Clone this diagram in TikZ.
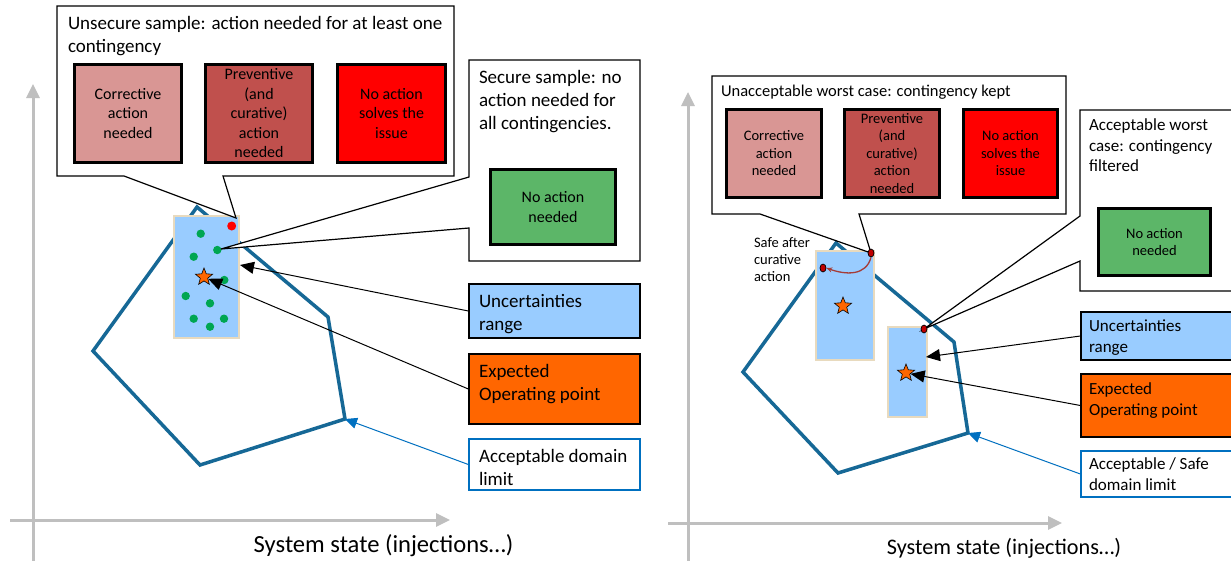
\documentclass[tikz,border=0pt]{standalone}
\usepackage{fontspec}
\setmainfont{Carlito}
\usetikzlibrary{arrows.meta,shapes.geometric,calc}

\definecolor{axisgray}{RGB}{191,191,191}
\definecolor{domblue}{RGB}{22,104,150}
\definecolor{uncblue}{RGB}{153,204,255}
\definecolor{uncedge}{RGB}{232,218,190}
\definecolor{opora}{RGB}{255,102,0}
\definecolor{corrpink}{RGB}{217,150,148}
\definecolor{prevred}{RGB}{192,80,77}
\definecolor{hardred}{RGB}{255,0,0}
\definecolor{okgreen}{RGB}{92,182,104}
\definecolor{dotgreen}{RGB}{0,166,81}
\definecolor{limblue}{RGB}{0,112,192}
\definecolor{darkdot}{RGB}{192,0,0}
\definecolor{curvered}{RGB}{165,60,55}

% font sizes
\newcommand\fHeadL{\fontsize{19}{23}\selectfont}
\newcommand\fBoxL{\fontsize{16}{19.5}\selectfont}
\newcommand\fHeadR{\fontsize{16.5}{20}\selectfont}
\newcommand\fBoxR{\fontsize{14.5}{17.5}\selectfont}
\newcommand\fLabR{\fontsize{17}{20.5}\selectfont}
\newcommand\fNote{\fontsize{14.5}{17.3}\selectfont}

\begin{document}
\begin{tikzpicture}[x=1pt,y=-1pt,
  axisline/.style={line width=3pt, draw=axisgray, -{Triangle[length=14pt,width=13pt]}},
  limitline/.style={draw=domblue, line width=3.5pt, line join=miter},
  uncrect/.style={draw=uncedge, fill=uncblue, line width=1.2pt, inner sep=0pt},
  opstar/.style={star, star points=5, star point ratio=2.3, minimum size=18pt, inner sep=0pt,
                 fill=opora, draw=black, line width=0.6pt},
  callout/.style={draw=black, line width=1.2pt, fill=white, line join=miter},
  statebox/.style={draw=black, line width=3pt, align=center, inner sep=0pt},
  labelbox/.style={draw=black, line width=1.3pt, inner sep=0pt},
  txt/.style={anchor=north west, inner sep=0pt, outer sep=0pt, align=left},
  ptr/.style={draw=black, line width=1pt, -{Triangle[length=14pt,width=12pt]}},
  limptr/.style={draw=limblue, line width=1pt, -{Triangle[length=12pt,width=11pt]}},
  reddot/.style={ellipse, minimum width=6pt, minimum height=8pt, inner sep=0pt,
                 fill=darkdot, draw=black, line width=0.7pt},
  curvearrow/.style={draw=curvered, line width=1.3pt, -{Stealth[length=6pt,width=5pt]}}
]
\useasboundingbox (0,0) rectangle (1231,560);
\clip (0,0) rectangle (1231,560);
\fill[white] (0,0) rectangle (1231,560);

%% ================= left panel =================
% axes
\coordinate (yL0) at (33,562);  \coordinate (yL1) at (33,84);
\coordinate (xL0) at (10,520);  \coordinate (xL1) at (450,520);
\draw[axisline] (yL0) -- (yL1);
\draw[axisline] (xL0) -- (xL1);
\node[anchor=base, inner sep=0pt, font=\fontsize{24.6}{28}\selectfont] (axL) at (383.5,552.5)
  {System state (injections…)};

% acceptable domain
\coordinate (pA) at (197,207); \coordinate (pB) at (328,317);
\coordinate (pC) at (345,419); \coordinate (pD) at (200,465);
\coordinate (pE) at (93,351);
\draw[limitline] (pA) -- (pB) -- (pC) -- (pD) -- (pE) -- cycle;

% uncertainty range with samples
\node[uncrect, minimum width=65pt, minimum height=122pt] (rangeL) at (206.5,277) {};
\foreach \px/\py in {200.7/233.7, 217.3/250, 193.7/256.7, 224.3/280, 185.7/296,
                     210/303.3, 193.7/318.7, 224/318.7, 210/326.7}
  \fill[dotgreen] (\px,\py) circle[radius=4.2pt];
\node[opstar] (starL) at (204,277) {};

% callout: unsecure sample
\draw[callout] (57,6) -- (454,6) -- (454,176) -- (223,176) -- (236,218) -- (124,176)
  -- (57,176) -- cycle;
\fill[hardred] (231.7,226) circle[radius=4.5pt];
\node[txt, font=\fHeadL] (unsecTxt) at (68,13.4)
  {\strut Unsecure sample: action needed for at least one\\contingency};
\node[statebox, fill=corrpink, minimum width=107pt, minimum height=98pt, font=\fBoxL]
  (corrL) at (128,113.5) {Corrective\\action\\needed};
\node[statebox, fill=prevred, minimum width=107pt, minimum height=98pt, font=\fBoxL]
  (prevL) at (259,113.5) {Preventive\\(and\\curative)\\action\\needed};
\node[statebox, fill=hardred, minimum width=108pt, minimum height=98pt, font=\fBoxL]
  (noneL) at (391.5,113.5) {No action\\solves the\\issue};

% callout: secure sample
\draw[callout] (469,60) -- (640,60) -- (640,261) -- (469,261) -- (469,228) -- (221,249)
  -- (469,177) -- cycle;
\node[txt, font=\fHeadL] (secTxt) at (479,67.2)
  {\strut Secure sample: no\\action needed for\\all contingencies.};
\node[statebox, fill=okgreen, minimum width=125pt, minimum height=75pt, font=\fBoxL]
  (okL) at (553,207) {No action\\needed};

% legend boxes
\node[labelbox, fill=uncblue, minimum width=171pt, minimum height=54pt] (uncL) at (554.5,311) {};
\node[txt, font=\fHeadL] (uncLTxt) at (479,291.2) {\strut Uncertainties\\range};
\node[labelbox, fill=opora, minimum width=171pt, minimum height=70pt] (expL) at (554.5,389) {};
\node[txt, font=\fHeadL] (expLTxt) at (479,361.2) {\strut Expected\\Operating point};
\node[labelbox, draw=limblue, fill=white, minimum width=171pt, minimum height=51pt] (limL) at (554.5,464.5) {};
\node[txt, font=\fHeadL] (limLTxt) at (479,446.6) {\strut Acceptable domain\\limit};

% pointers
\coordinate (uncTipL) at (240,265);
\draw[ptr] (uncL.west) -- (uncTipL);
\draw[ptr] (expL.west) -- (starL);
\draw[limptr] (limL.west) -- (pC);

%% ================= right panel =================
\coordinate (yR0) at (688,562);  \coordinate (yR1) at (688,92);
\coordinate (xR0) at (668,523);  \coordinate (xR1) at (1062,523);
\draw[axisline] (yR0) -- (yR1);
\draw[axisline] (xR0) -- (xR1);
\node[anchor=base, inner sep=0pt, font=\fontsize{22.2}{26}\selectfont] (axR) at (1004,554)
  {System state (injections…)};

% acceptable / safe domain
\coordinate (qA) at (836,243); \coordinate (qB) at (954,342);
\coordinate (qC) at (968,433); \coordinate (qD) at (838,473);
\coordinate (qE) at (743,372);
\draw[limitline] (qA) -- (qB) -- (qC) -- (qD) -- (qE) -- cycle;

% uncertainty ranges
\node[uncrect, minimum width=58pt, minimum height=109pt] (rangeR1) at (845,305.5) {};
\node[uncrect, minimum width=39pt, minimum height=90pt] (rangeR2) at (907.5,372) {};
\node[opstar] (starR1) at (843,306) {};
\node[opstar] (starR2) at (906,373) {};

% callout: unacceptable worst case
\draw[callout] (712,76) -- (1066,76) -- (1066,214) -- (859,214) -- (871,253) -- (760,214)
  -- (712,214) -- cycle;
\node[txt, font=\fHeadR] (unaccTxt) at (721,82)
  {\strut Unacceptable worst case: contingency kept};
\node[statebox, fill=corrpink, minimum width=95pt, minimum height=88pt, font=\fBoxR]
  (corrR) at (774,153.5) {Corrective\\action\\needed};
\node[statebox, fill=prevred, minimum width=95pt, minimum height=88pt, font=\fBoxR]
  (prevR) at (892,153.5) {Preventive\\(and\\curative)\\action\\needed};
\node[statebox, fill=hardred, minimum width=94pt, minimum height=88pt, font=\fBoxR]
  (noneR) at (1010.5,153.5) {No action\\solves the\\issue};

% callout: acceptable worst case
\draw[callout] (1080,110) -- (1240,110) -- (1240,291) -- (1080,291) -- (1080,261) -- (924,329)
  -- (1080,216) -- cycle;
\node[txt, font=\fLabR] (accTxt) at (1089,116.6)
  {\strut Acceptable worst\\case: contingency\\filtered};
\node[statebox, fill=okgreen, minimum width=112pt, minimum height=67pt, font=\fBoxR]
  (okR) at (1154.5,242) {No action\\needed};

% worst-case samples and curative move
\node[reddot] (rdA) at (871,253) {};
\node[reddot] (rdB) at (823,268) {};
\node[reddot] (rdC) at (924,329) {};
\draw[curvearrow] (rdA.south) .. controls (866,276) and (846,275) .. (rdB.east);
\node[txt, font=\fNote] (safeTxt) at (754,234.9) {\strut Safe after\\curative\\action};

% legend boxes
\node[labelbox, fill=uncblue, minimum width=160pt, minimum height=48pt] (uncR) at (1161,336) {};
\node[txt, font=\fLabR] (uncRTxt) at (1089,317.3) {\strut Uncertainties\\range};
\node[labelbox, fill=opora, minimum width=160pt, minimum height=63pt] (expR) at (1161,405.5) {};
\node[txt, font=\fLabR] (expRTxt) at (1089,380.6) {\strut Expected\\Operating point};
\node[labelbox, draw=limblue, fill=white, minimum width=160pt, minimum height=46pt] (limR) at (1161,474) {};
\node[txt, font=\fLabR] (limRTxt) at (1089,455.6) {\strut Acceptable / Safe\\domain limit};

% pointers
\coordinate (uncTipR) at (926,357);
\draw[ptr] (uncR.west) -- (uncTipR);
\draw[ptr] (expR.west) -- (starR2);
\draw[limptr] (limR.west) -- (qC);
\end{tikzpicture}
\end{document}
